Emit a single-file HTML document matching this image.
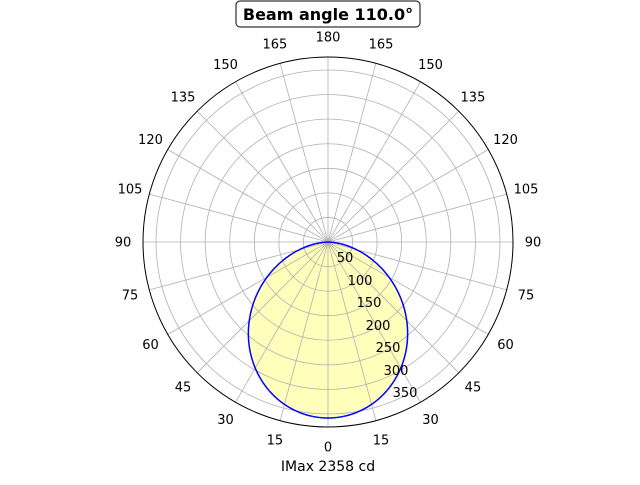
<!DOCTYPE html>
<html><head><style>
body{margin:0;background:#fff;}
svg text{font-family:"DejaVu Sans","Liberation Sans",sans-serif;}
</style></head><body>
<svg width="640" height="480" viewBox="0 0 640 480" xmlns="http://www.w3.org/2000/svg">
<g id="g"></g>
<rect x="236" y="1" width="184" height="26" rx="4" fill="#fff" stroke="#000" stroke-width="1"/>
<text x="328" y="20" text-anchor="middle" font-size="16" font-weight="bold">Beam angle 110.0°</text>
<text x="328" y="471" text-anchor="middle" font-size="14">IMax 2358 cd</text>
</svg>
<script>
const ns="http://www.w3.org/2000/svg",g=document.getElementById("g");
const cx=328,cy=242,R=185,s=R/376.5;
function el(t,a,txt){const e=document.createElementNS(ns,t);for(const k in a)e.setAttribute(k,a[k]);if(txt!==undefined)e.textContent=txt;g.appendChild(e);return e;}
let pts=[];
for(let d=-90;d<=90;d+=1){const t=d*Math.PI/180;const r=176*Math.pow(Math.max(Math.cos(t),0),1.32);pts.push([cx+r*Math.sin(t),cy+r*Math.cos(t)]);}
const dstr="M"+pts.map(p=>p[0].toFixed(2)+","+p[1].toFixed(2)).join(" L")+"Z";
el("path",{d:dstr,fill:"#ffffbb",stroke:"none"});
for(let k=50;k<=350;k+=50)el("circle",{cx,cy,r:k*s,fill:"none",stroke:"#b0b0b0","stroke-width":0.8});
for(let a=0;a<360;a+=15){const t=a*Math.PI/180;el("line",{x1:cx,y1:cy,x2:cx+R*Math.sin(t),y2:cy+R*Math.cos(t),stroke:"#b0b0b0","stroke-width":0.8});}
el("path",{d:dstr,fill:"none",stroke:"#0000ff","stroke-width":1.5});
el("circle",{cx,cy,r:R,fill:"none",stroke:"#000","stroke-width":1});
for(let a=-180;a<180;a+=15){const t=a*Math.PI/180;const x=cx+205*Math.sin(t),y=cy+205*Math.cos(t);el("text",{x:x,y:y+4.5,"text-anchor":"middle","font-size":13},String(Math.abs(a)));}
const rl=[[345,257],[360,280],[369,302],[378,325],[388,347],[396,370],[405,392]];
rl.forEach((p,i)=>el("text",{x:p[0],y:p[1]+5,"text-anchor":"middle","font-size":13},String((i+1)*50)));
</script>
</body></html>
